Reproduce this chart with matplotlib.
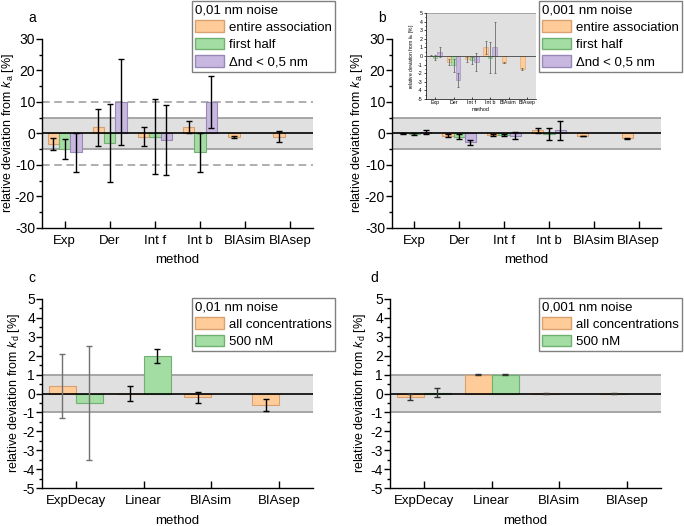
import numpy as np
import matplotlib
matplotlib.use("Agg")
import matplotlib.pyplot as plt
from matplotlib.patches import Patch
from matplotlib.ticker import MultipleLocator

plt.rcParams['font.family'] = ['Liberation Sans', 'DejaVu Sans']
plt.rcParams['mathtext.fontset'] = 'custom'
plt.rcParams['mathtext.rm'] = 'Liberation Sans'
plt.rcParams['mathtext.it'] = 'Liberation Sans:italic'
plt.rcParams['axes.unicode_minus'] = False

# ---------------- data ----------------
ka_methods = ["Exp", "Der", "Int f", "Int b", "BIAsim", "BIAsep"]
ka_series = ["entire association", "first half", "\u0394nd < 0,5 nm"]

# panel a: 0,01 nm noise
a_entire = [-3.3, 2.0, -1.0, 2.0, -1.2, -1.0]
a_entire_err = [1.8, 5.9, 3.0, 2.0, 0.3, 1.8]
a_half = [-5.0, -3.0, -1.0, -6.0, np.nan, np.nan]
a_half_err = [3.2, 12.3, 12.0, 6.3, np.nan, np.nan]
a_dnd = [-6.0, 10.0, -2.0, 10.0, np.nan, np.nan]
a_dnd_err = [6.3, 13.5, 11.2, 8.2, np.nan, np.nan]

# panel b: 0,001 nm noise
b_entire = [0.05, -0.7, -0.4, 1.0, -0.8, -1.5]
b_entire_err = [0.1, 0.4, 0.3, 0.8, 0.05, 0.1]
b_half = [-0.2, -1.1, -0.5, -0.2, np.nan, np.nan]
b_half_err = [0.3, 0.8, 0.4, 1.8, np.nan, np.nan]
b_dnd = [0.5, -2.8, -0.7, 1.0, np.nan, np.nan]
b_dnd_err = [0.6, 0.8, 1.1, 3.0, np.nan, np.nan]

kd_methods = ["ExpDecay", "Linear", "BIAsim", "BIAsep"]
kd_series = ["all concentrations", "500 nM"]

# panel c: 0,01 nm noise
c_all = [0.4, 0.0, -0.2, -0.6]
c_all_err = [1.7, 0.4, 0.3, 0.3]
c_500 = [-0.5, 2.0, np.nan, np.nan]
c_500_err = [3.0, 0.37, np.nan, np.nan]

# panel d: 0,001 nm noise
d_all = [-0.17, 1.0, 0.0, 0.0]
d_all_err = [0.17, 0.03, 0.02, 0.01]
d_500 = [0.05, 1.0, np.nan, np.nan]
d_500_err = [0.25, 0.03, np.nan, np.nan]

# ---------------- style ----------------
FACE = ["#FFCC99", "#A3DDA3", "#C8B8E0"]
EDGE = ["#D9A070", "#70B070", "#9888B8"]
BAND_FACE = "#E0E0E0"
BAND_EDGE = "#A0A0A0"
FS = 9.5
YFS = 10
LFS = 9

W, H = 684, 526
fig = plt.figure(figsize=(W / 100, H / 100), dpi=100)


def rect(l, t, r, b):
    return [l / W, 1 - b / H, (r - l) / W, (b - t) / H]


def style_axes(ax, ylim, major, minor, band, fs=FS, yfs=YFS, tl=4, lw=1.0, xpad=5):
    for s in ["top", "right"]:
        ax.spines[s].set_visible(False)
    for s in ["left", "bottom"]:
        ax.spines[s].set_linewidth(lw)
    ax.set_ylim(*ylim)
    ax.yaxis.set_major_locator(MultipleLocator(major))
    ax.yaxis.set_minor_locator(MultipleLocator(minor))
    ax.tick_params(axis="y", which="major", direction="out", length=tl, width=lw, labelsize=yfs, pad=1.0)
    ax.tick_params(axis="y", which="minor", direction="out", length=tl * 0.55, width=lw)
    ax.tick_params(axis="x", which="major", direction="in", length=tl * 1.2, width=lw, labelsize=fs, pad=xpad)
    ax.axhspan(-band, band, facecolor=BAND_FACE, edgecolor="none", zorder=0)
    ax.axhline(band, color=BAND_EDGE, lw=1.3 * lw, zorder=0.5)
    ax.axhline(-band, color=BAND_EDGE, lw=1.3 * lw, zorder=0.5)


def draw_bars(ax, cats, vals, errs, offsets, width, ecolors, lw=0.8, elw=1.0, cap=2.5):
    x = np.arange(len(cats))
    for i, (v, e) in enumerate(zip(vals, errs)):
        v = np.asarray(v, float)
        e = np.asarray(e, float)
        ax.bar(x + offsets[i], v, width, color=FACE[i], edgecolor=EDGE[i], linewidth=lw, zorder=2)
        for j in range(len(cats)):
            if np.isnan(v[j]):
                continue
            ax.errorbar(x[j] + offsets[i], v[j], yerr=e[j], fmt="none", ecolor=ecolors[i][j],
                        elinewidth=elw, capsize=cap, capthick=elw, zorder=4)
    ax.set_xlim(-0.5, len(cats) - 0.5)
    ax.set_xticks(x)
    ax.set_xticklabels(cats)


def add_legend(title, labels, left, top, hl=2.2):
    handles = [Patch(facecolor=FACE[i], edgecolor=EDGE[i], linewidth=1.0) for i in range(len(labels))]
    leg = fig.legend(handles, labels, title=title, loc="upper left",
                     bbox_to_anchor=(left / W, 1 - top / H), fontsize=FS, title_fontsize=FS,
                     frameon=True, fancybox=False, edgecolor="#808080", framealpha=1,
                     handlelength=hl, handleheight=1.0, labelspacing=0.3, handletextpad=0.35,
                     borderpad=0.25, borderaxespad=0, alignment="left")
    leg.get_frame().set_linewidth(1.0)
    return leg


ka_label = "relative deviation from $k_\\mathrm{a}$ [%]"
kd_label = "relative deviation from $k_\\mathrm{d}$ [%]"
K = "k"
G = "#707070"

# ---------------- panel a ----------------
ax_a = fig.add_axes(rect(42, 39, 313, 228))
style_axes(ax_a, (-30, 30), 10, 5, 5)
ax_a.axhline(10, color="#999999", lw=1.1, ls=(0, (5, 3)), zorder=0.5)
ax_a.axhline(-10, color="#999999", lw=1.1, ls=(0, (5, 3)), zorder=0.5)
draw_bars(ax_a, ka_methods, [a_entire, a_half, a_dnd], [a_entire_err, a_half_err, a_dnd_err],
          [-0.25, 0, 0.25], 0.25, [[K] * 6] * 3)
ax_a.axhline(0, color="k", lw=1.2, zorder=3)
ax_a.set_ylabel(ka_label, fontsize=LFS)
ax_a.yaxis.set_label_coords(-0.097, 0.5)
ax_a.set_xlabel("method", fontsize=FS, labelpad=5)
add_legend("0,01 nm noise", ka_series, 192, 1)
fig.text(32 / W, 1 - 18 / H, "a", fontsize=FS + 0.5, ha="center", va="center")

# ---------------- panel b ----------------
ax_b = fig.add_axes(rect(392, 39, 661, 228))
style_axes(ax_b, (-30, 30), 10, 5, 5)
draw_bars(ax_b, ka_methods, [b_entire, b_half, b_dnd], [b_entire_err, b_half_err, b_dnd_err],
          [-0.25, 0, 0.25], 0.25, [[K] * 6] * 3)
ax_b.axhline(0, color="k", lw=1.2, zorder=3)
ax_b.set_ylabel(ka_label, fontsize=LFS)
ax_b.yaxis.set_label_coords(-0.1, 0.5)
ax_b.set_xlabel("method", fontsize=FS, labelpad=5)
add_legend("0,001 nm noise", ka_series, 539, 1)
fig.text(382 / W, 1 - 18 / H, "b", fontsize=FS + 0.5, ha="center", va="center")

# inset
ax_i = fig.add_axes(rect(426, 13, 536, 99))
style_axes(ax_i, (-5, 5), 1, 0.5, 5, fs=3.8, yfs=3.8, tl=1.5, lw=0.5, xpad=1)
draw_bars(ax_i, ka_methods, [b_entire, b_half, b_dnd], [b_entire_err, b_half_err, b_dnd_err],
          [-0.25, 0, 0.25], 0.25, [["#555555"] * 6] * 3, lw=0.4, elw=0.5, cap=1.0)
ax_i.axhline(0, color="#444444", lw=0.6, zorder=3)
ax_i.tick_params(axis="y", pad=1)
ax_i.set_ylabel(ka_label, fontsize=3.6, labelpad=1)
ax_i.set_xlabel("method", fontsize=3.8, labelpad=1)

# ---------------- panel c ----------------
ax_c = fig.add_axes(rect(42, 299, 313, 488))
style_axes(ax_c, (-5, 5), 1, 0.5, 1)
draw_bars(ax_c, kd_methods, [c_all, c_500], [c_all_err, c_500_err], [-0.2, 0.2], 0.4,
          [[G, K, K, K], [G, K, K, K]])
ax_c.axhline(0, color="k", lw=1.2, zorder=3)
ax_c.set_ylabel(kd_label, fontsize=LFS)
ax_c.yaxis.set_label_coords(-0.072, 0.5)
ax_c.set_xlabel("method", fontsize=FS, labelpad=6)
add_legend("0,01 nm noise", kd_series, 192, 298)
fig.text(32 / W, 1 - 278 / H, "c", fontsize=FS + 0.5, ha="center", va="center")

# ---------------- panel d ----------------
ax_d = fig.add_axes(rect(390, 299, 661, 488))
style_axes(ax_d, (-5, 5), 1, 0.5, 1)
draw_bars(ax_d, kd_methods, [d_all, d_500], [d_all_err, d_500_err], [-0.2, 0.2], 0.4,
          [["#333333"] * 4, ["#333333"] * 4])
ax_d.axhline(0, color="k", lw=1.2, zorder=3)
ax_d.set_ylabel(kd_label, fontsize=LFS)
ax_d.yaxis.set_label_coords(-0.08, 0.5)
ax_d.set_xlabel("method", fontsize=FS, labelpad=6)
add_legend("0,001 nm noise", kd_series, 539, 298)
fig.text(374 / W, 1 - 278 / H, "d", fontsize=FS + 0.5, ha="center", va="center")

fig.savefig("out.png", dpi=100)
